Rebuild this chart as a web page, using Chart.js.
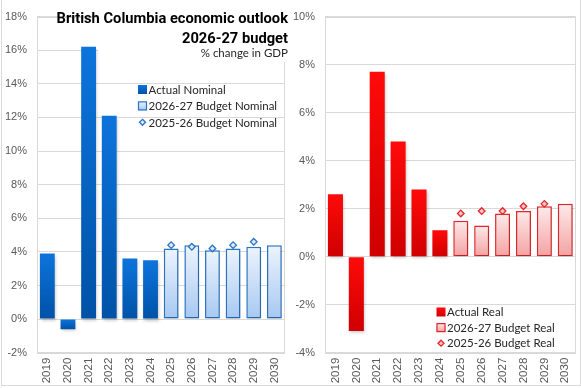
<!DOCTYPE html>
<html>
<head>
<meta charset="utf-8">
<script src="https://cdn.jsdelivr.net/npm/chart.js@4.4.0/dist/chart.umd.min.js"></script>
<style>
	html, body { margin: 0; padding: 0; background: #fff; }
	#wrap { position: relative; width: 581px; height: 388px; overflow: hidden; }
	#left { position: absolute; left: 0; top: 0; }
	#right { position: absolute; left: 290px; top: 0; }
	#frame { position: absolute; left: 1px; top: -2px; width: 580px; height: 388px; border: 1px solid #d9d9d9; box-sizing: border-box; }
</style>
</head>
<body>
<div id="wrap">
	<canvas id="left" width="290" height="388"></canvas>
	<canvas id="right" width="291" height="388"></canvas>
	<div id="frame"></div>
</div>
<script>

// data (% change in GDP)
var years = ['2019','2020','2021','2022','2023','2024','2025','2026','2027','2028','2029','2030'];

var actualNominal     = [3.9, -0.6, 16.2, 12.1, 3.6, 3.5, null, null, null, null, null, null];
var budgetNominal     = [null, null, null, null, null, null, 4.2, 4.4, 4.1, 4.2, 4.3, 4.4];
var prevBudgetNominal = [null, null, null, null, null, null, 4.4, 4.3, 4.2, 4.4, 4.6, null];

var actualReal     = [2.6, -3.1, 7.7, 4.8, 2.8, 1.1, null, null, null, null, null, null];
var budgetReal     = [null, null, null, null, null, null, 1.5, 1.3, 1.8, 1.9, 2.1, 2.2];
var prevBudgetReal = [null, null, null, null, null, null, 1.8, 1.9, 1.9, 2.1, 2.2, null];

var nominalLabels = ['Actual Nominal', '2026-27 Budget Nominal', '2025-26 Budget Nominal'];
var realLabels    = ['Actual Real', '2026-27 Budget Real', '2025-26 Budget Real'];

var titleLines = ['British Columbia economic outlook', '2026-27 budget'];
var subTitle = '% change in GDP';

var tickColor = '#595959';
var gridColor = '#d9d9d9';

// vertical gradient per bar, from the bar top down to its base
function barGradient(top, bottom) {
	return function(c) {
		var chart = c.chart;
		if (!chart.chartArea || c.type !== 'data' || !c.parsed || c.parsed.y == null || isNaN(c.parsed.y)) return top;
		var ys = chart.scales.y;
		var p0 = ys.getPixelForValue(0), p1 = ys.getPixelForValue(c.parsed.y);
		if (p0 === p1) return top;
		var g = chart.ctx.createLinearGradient(0, Math.min(p0, p1), 0, Math.max(p0, p1));
		g.addColorStop(0, top);
		g.addColorStop(1, bottom);
		return g;
	};
}

function diamond(ctx, cx, cy, r, fill, stroke) {
	ctx.beginPath();
	ctx.moveTo(cx, cy - r);
	ctx.lineTo(cx + r, cy);
	ctx.lineTo(cx, cy + r);
	ctx.lineTo(cx - r, cy);
	ctx.closePath();
	ctx.fillStyle = fill;
	ctx.fill();
	ctx.lineWidth = 1.3;
	ctx.strokeStyle = stroke;
	ctx.stroke();
}

// plot box + soft shadow under the bars
var plotBox = {
	id: 'plotBox',
	beforeDatasetsDraw: function(chart) {
		var a = chart.chartArea, ctx = chart.ctx;
		ctx.save();
		ctx.strokeStyle = gridColor;
		ctx.lineWidth = 1;
		ctx.strokeRect(Math.round(a.left) + 0.5, Math.round(a.top) + 0.5, Math.round(a.right - a.left) - 1, Math.round(a.bottom - a.top));
		ctx.restore();
	},
	beforeDatasetDraw: function(chart, args) {
		if (chart.data.datasets[args.index].type === 'line') return;
		var ctx = chart.ctx;
		ctx.save();
		ctx.shadowColor = 'rgba(0,0,0,0.22)';
		ctx.shadowBlur = 3;
		ctx.shadowOffsetX = 1;
		ctx.shadowOffsetY = 2;
	},
	afterDatasetDraw: function(chart, args) {
		if (chart.data.datasets[args.index].type === 'line') return;
		chart.ctx.restore();
	}
};

// legend drawn inside the plot area
var boxLegend = {
	id: 'boxLegend',
	afterDatasetsDraw: function(chart, args, o) {
		var ctx = chart.ctx;
		ctx.save();
		ctx.font = '11.5px Lato';
		ctx.textBaseline = 'middle';
		chart.data.datasets.forEach(function(ds, i) {
			var x = o.x, y = o.y + i * o.gap;
			if (ds.type === 'line') {
				diamond(ctx, x + 4.5, y, 3, ds.pointBackgroundColor, ds.pointBorderColor);
			} else {
				var g = ctx.createLinearGradient(0, y - 4.5, 0, y + 4.5);
				g.addColorStop(0, ds.legendTop);
				g.addColorStop(1, ds.legendBottom);
				ctx.fillStyle = g;
				ctx.fillRect(x, y - 4.5, 9, 9);
				if (ds.borderWidth) {
					ctx.strokeStyle = ds.borderColor;
					ctx.lineWidth = 1.2;
					ctx.strokeRect(x + 0.5, y - 4, 8, 8);
				}
			}
			ctx.fillStyle = '#262626';
			ctx.fillText(ds.label, x + 10.5, y + 0.5);
		});
		ctx.restore();
	}
};

// title block of the left panel, sits on a white box over the grid
var titleBox = {
	id: 'titleBox',
	beforeDatasetsDraw: function(chart, args, o) {
		var ctx = chart.ctx;
		ctx.save();
		ctx.fillStyle = '#fff';
		ctx.fillRect(o.left, o.top, o.right - o.left, o.bottom - o.top);
		ctx.restore();
	},
	afterDatasetsDraw: function(chart, args, o) {
		var ctx = chart.ctx;
		ctx.save();
		ctx.textAlign = 'right';
		ctx.textBaseline = 'alphabetic';
		ctx.fillStyle = '#000';
		ctx.font = 'bold 14.7px Roboto';
		ctx.fillText(titleLines[0], o.textX, 22.5);
		ctx.fillText(titleLines[1], o.textX, 42.5);
		ctx.fillStyle = '#262626';
		ctx.font = '11.5px Lato';
		ctx.fillText(subTitle, o.textX, 57);
		ctx.restore();
	}
};

function makeChart(id, s) {
	var datasets = [
		{ type: 'bar', label: s.labels[0], data: s.actual, grouped: false, order: 2,
		  backgroundColor: barGradient(s.actTop, s.actBottom), borderWidth: 0,
		  legendTop: s.actTop, legendBottom: s.actBottom },
		{ type: 'bar', label: s.labels[1], data: s.budget, grouped: false, order: 1,
		  backgroundColor: barGradient(s.budTop, s.budBottom), borderColor: s.line, borderWidth: 1.5,
		  borderSkipped: false, legendTop: s.budTop, legendBottom: s.budBottom },
		{ type: 'line', label: s.labels[2], data: s.prev, order: 0, showLine: false,
		  pointStyle: 'rectRot', pointRadius: 3.3, pointBorderWidth: 1.3,
		  pointBackgroundColor: s.dot, pointBorderColor: s.line }
	];

	return new Chart(document.getElementById(id), {
		data: { labels: years, datasets: datasets },
		plugins: s.plugins,
		options: {
			responsive: false,
			animation: false,
			events: [],
			layout: { padding: { top: 9.5, right: s.padRight, bottom: 0, left: 0 } },
			datasets: { bar: { categoryPercentage: 1, barPercentage: 0.72 } },
			scales: {
				x: {
					type: 'category',
					offset: true,
					grid: { display: false },
					border: { display: false },
					ticks: { autoSkip: false, minRotation: 90, maxRotation: 90, padding: -3,
						color: tickColor, font: { family: 'Liberation Sans', size: 11.5 } },
					afterFit: function(sc) { sc.height = 35.3; }
				},
				y: {
					min: s.min, max: s.max,
					grid: { color: gridColor, drawTicks: false },
					border: { display: false },
					ticks: { stepSize: 2, padding: 10, color: tickColor,
						font: { family: 'Liberation Sans', size: 11 },
						callback: function(v) { return v + '%'; } },
					afterFit: function(sc) { sc.width = s.axisWidth; }
				}
			},
			plugins: {
				legend: { display: false },
				tooltip: { enabled: false },
				boxLegend: s.legend,
				titleBox: s.title || {}
			}
		}
	});
}

// left: nominal
makeChart('left', {
	labels: nominalLabels, actual: actualNominal, budget: budgetNominal, prev: prevBudgetNominal,
	actTop: '#0d74dc', actBottom: '#0052a6',
	budTop: '#edf4fd', budBottom: '#a6c8f1',
	line: '#2a74c6', dot: '#dce9f9',
	min: -2, max: 18, axisWidth: 37, padRight: 1,
	legend: { x: 138, y: 89.5, gap: 16.4 },
	title: { left: 98, top: 11, right: 289, bottom: 62, textX: 288 },
	plugins: [plotBox, titleBox, boxLegend]
});

// right: real
makeChart('right', {
	labels: realLabels, actual: actualReal, budget: budgetReal, prev: prevBudgetReal,
	actTop: '#ff0a0a', actBottom: '#cf0000',
	budTop: '#fdeaea', budBottom: '#f4a2a2',
	line: '#e3262b', dot: '#f9c6c6',
	min: -4, max: 10, axisWidth: 35, padRight: 3,
	legend: { x: 146.5, y: 312, gap: 15.6 },
	plugins: [plotBox, boxLegend]
});

</script>
</body>
</html>
